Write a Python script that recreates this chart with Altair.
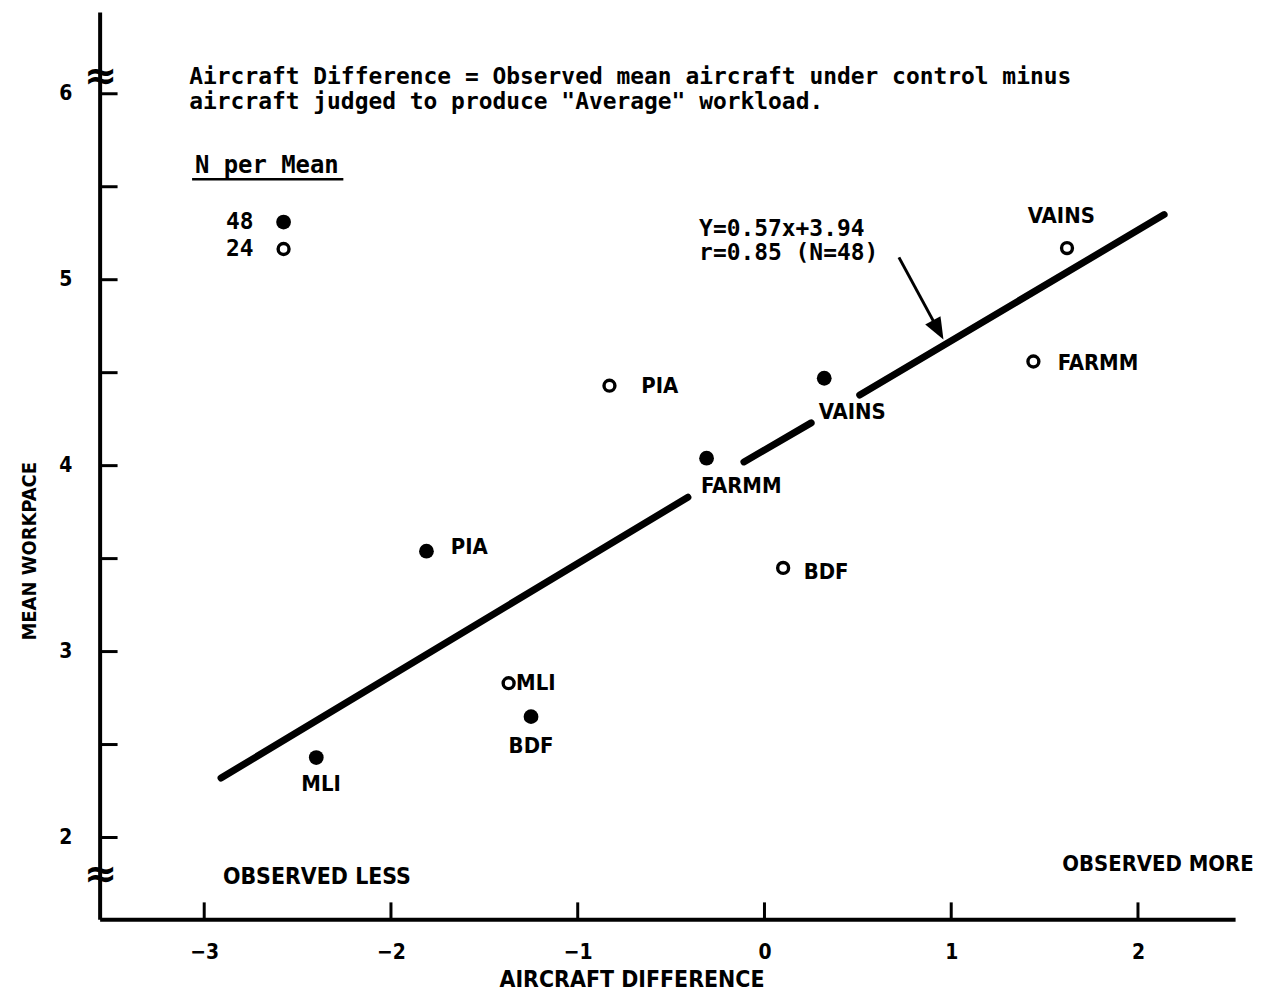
import altair as alt
import pandas as pd

# ---------------- data ----------------
x_ticks = [-3, -2, -1, 0, 1, 2]
y_ticks = [2, 2.5, 3, 3.5, 4, 4.5, 5, 5.5, 6]
y_label_values = [2, 3, 4, 5, 6]

# N = 48 (filled)
filled_names = ["MLI", "BDF", "PIA", "FARMM", "VAINS"]
filled_x = [-2.40, -1.25, -1.81, -0.31, 0.32]
filled_y = [2.43, 2.65, 3.54, 4.04, 4.47]
filled_lab_x = [-2.48, -1.37, -1.68, -0.34, 0.29]
filled_lab_y = [2.29, 2.49, 3.56, 3.89, 4.29]

# N = 24 (open)
open_names = ["MLI", "PIA", "BDF", "FARMM", "VAINS"]
open_x = [-1.37, -0.83, 0.10, 1.44, 1.62]
open_y = [2.83, 4.43, 3.45, 4.56, 5.17]
open_lab_x = [-1.33, -0.66, 0.21, 1.57, 1.41]
open_lab_y = [2.83, 4.43, 3.43, 4.55, 5.34]

# regression line (drawn broken around labels)
fit_x1 = [-2.91, -0.11, 0.51]
fit_y1 = [2.32, 4.02, 4.38]
fit_x2 = [-0.41, 0.25, 2.14]
fit_y2 = [3.83, 4.23, 5.35]

# arrow pointing to the line
arrow_x1, arrow_y1 = 0.72, 5.12
arrow_x2, arrow_y2 = 0.93, 4.73

# legend
legend_n = ["48", "24"]
legend_y = [5.31, 5.165]
legend_marker_x = -2.575
legend_text_x = -2.81

note_lines = [
    'Aircraft Difference = Observed mean aircraft under control minus',
    'aircraft judged to produce "Average" workload.',
]
note_y = [6.09, 5.955]
note_x = -3.08
eq_lines = ["Y=0.57x+3.94", "r=0.85 (N=48)"]
eq_y = [5.275, 5.143]
eq_x = -0.35
break_y = [6.09, 1.80]
obs_less_x, obs_less_y = -2.90, 1.786
obs_more_x, obs_more_y = 2.62, 1.856   # right end of the text

MONO = "DejaVu Sans Mono"
COND = "DejaVu Sans Condensed"

W, H = 1140, 911
xs = alt.Scale(domain=[-3.56, 2.52], nice=False, zero=False)
ys = alt.Scale(domain=[1.56, 6.44], nice=False, zero=False)

x_axis = alt.Axis(
    values=x_ticks, ticks=False, tickSize=0, grid=False, labelPadding=22,
    labelFont=COND, labelFontSize=21, labelFontWeight="bold", labelColor="black",
    domainColor="black", domainWidth=4,
    title="AIRCRAFT DIFFERENCE", titleFont=COND, titleFontSize=23,
    titleFontWeight="bold", titleColor="black", titleX=534, titleY=60,
    titleAlign="center", titleBaseline="middle")
y_axis = alt.Axis(
    values=y_label_values, ticks=False, tickSize=0, grid=False, labelPadding=28,
    labelFont=COND, labelFontSize=21, labelFontWeight="bold", labelColor="black",
    domainColor="black", domainWidth=4,
    title="MEAN WORKPACE", titleFont=COND, titleFontSize=20,
    titleFontWeight="bold", titleColor="black", titleAngle=270,
    titleX=-70, titleY=541, titleAlign="center", titleBaseline="middle")

filled = pd.DataFrame({"name": filled_names, "x": filled_x, "y": filled_y,
                       "lx": filled_lab_x, "ly": filled_lab_y})
opened = pd.DataFrame({"name": open_names, "x": open_x, "y": open_y,
                       "lx": open_lab_x, "ly": open_lab_y})
fit = pd.DataFrame({"x": fit_x1, "y": fit_y1, "x2": fit_x2, "y2": fit_y2})
ytk = pd.DataFrame({"y": y_ticks})
xtk = pd.DataFrame({"x": x_ticks})
leg = pd.DataFrame({"n": legend_n, "y": legend_y, "x": [legend_marker_x] * 2,
                    "tx": [legend_text_x] * 2})
notes = pd.DataFrame({"t": note_lines, "y": note_y, "x": [note_x] * 2})
eqs = pd.DataFrame({"t": eq_lines, "y": eq_y, "x": [eq_x] * 2})
brk = pd.DataFrame({"y": break_y})


def X(f="x"):
    return alt.X(f"{f}:Q", scale=xs, axis=x_axis)


def Y(f="y"):
    return alt.Y(f"{f}:Q", scale=ys, axis=y_axis)


yticks = alt.Chart(ytk).mark_rule(color="black", strokeWidth=3).encode(
    y=Y(), x=alt.value(0), x2=alt.value(18))
xticks = alt.Chart(xtk).mark_rule(color="black", strokeWidth=3).encode(
    x=X(), y=alt.value(H), y2=alt.value(H - 17))

breaks = alt.Chart(brk).mark_text(text="≈", font="DejaVu Sans", fontSize=40,
                                  fontWeight="bold", baseline="middle",
                                  color="black").encode(y=Y(), x=alt.value(1))

fitline = alt.Chart(fit).mark_rule(color="black", strokeWidth=7, strokeCap="round").encode(
    x=X(), y=Y(), x2="x2:Q", y2="y2:Q")

arrow = alt.Chart(pd.DataFrame({"x": [arrow_x1], "y": [arrow_y1],
                                "x2": [arrow_x2], "y2": [arrow_y2]})).mark_rule(
    color="black", strokeWidth=3).encode(x=X(), y=Y(), x2="x2:Q", y2="y2:Q")
arrowhead = alt.Chart(pd.DataFrame({"x": [arrow_x2], "y": [arrow_y2]})).mark_point(
    shape="M -0.8 -1 L 0.8 -1 L 0 1 Z", size=480, filled=True, color="black",
    opacity=1, angle=331).encode(x=X(), y=Y())

fpts = alt.Chart(filled).mark_circle(size=220, color="black", opacity=1).encode(x=X(), y=Y())
opts = alt.Chart(opened).mark_point(size=120, color="black", strokeWidth=3.4,
                                    opacity=1, filled=False).encode(x=X(), y=Y())

flab = alt.Chart(filled).mark_text(align="left", baseline="middle", font=COND,
                                   fontSize=22, fontWeight="bold", color="black").encode(
    x=X("lx"), y=Y("ly"), text="name:N")
olab = alt.Chart(opened).mark_text(align="left", baseline="middle", font=COND,
                                   fontSize=22, fontWeight="bold", color="black").encode(
    x=X("lx"), y=Y("ly"), text="name:N")

note = alt.Chart(notes).mark_text(align="left", baseline="middle", font=MONO,
                                  fontSize=23, fontWeight="bold", color="black").encode(
    x=X(), y=Y(), text="t:N")
eq = alt.Chart(eqs).mark_text(align="left", baseline="middle", font=MONO,
                              fontSize=23, fontWeight="bold", color="black").encode(
    x=X(), y=Y(), text="t:N")

legtitle = alt.Chart(pd.DataFrame({"t": ["N per Mean"], "x": [-3.05], "y": [5.61]})).mark_text(
    align="left", baseline="middle", font=MONO, fontSize=24, fontWeight="bold",
    color="black").encode(x=X(), y=Y(), text="t:N")
legline = alt.Chart(pd.DataFrame({"x": [-3.065], "x2": [-2.255], "y": [5.54]})).mark_rule(
    color="black", strokeWidth=2.5).encode(x=X(), x2="x2:Q", y=Y())
legnum = alt.Chart(leg).mark_text(align="center", baseline="middle", font=MONO,
                                  fontSize=23, fontWeight="bold", color="black").encode(
    x=X("tx"), y=Y(), text="n:N")
legf = alt.Chart(leg.iloc[[0]]).mark_circle(size=220, color="black", opacity=1).encode(
    x=X(), y=Y())
lego = alt.Chart(leg.iloc[[1]]).mark_point(size=120, color="black", strokeWidth=3.4,
                                           opacity=1, filled=False).encode(x=X(), y=Y())

obs_less = alt.Chart(pd.DataFrame({"t": ["OBSERVED LESS"], "x": [obs_less_x],
                                   "y": [obs_less_y]})).mark_text(
    align="left", baseline="middle", font=COND, fontSize=23, fontWeight="bold",
    color="black").encode(x=X(), y=Y(), text="t:N")
obs_more = alt.Chart(pd.DataFrame({"t": ["OBSERVED MORE"], "x": [obs_more_x],
                                   "y": [obs_more_y]})).mark_text(
    align="right", baseline="middle", font=COND, fontSize=22, fontWeight="bold",
    color="black").encode(x=X(), y=Y(), text="t:N")

chart = alt.layer(
    yticks, xticks, breaks, fitline, arrow, arrowhead, fpts, opts,
    flab, olab, note, eq, legtitle, legline, legnum, legf, lego, obs_less, obs_more,
).properties(
    width=W, height=H,
    autosize=alt.AutoSizeParams(type="none"),
    padding={"left": 92, "top": 2, "right": 22, "bottom": 70},
    background="white",
).configure_view(stroke=None)

chart.save("out.html", embed_options={"renderer": "svg", "actions": False})
